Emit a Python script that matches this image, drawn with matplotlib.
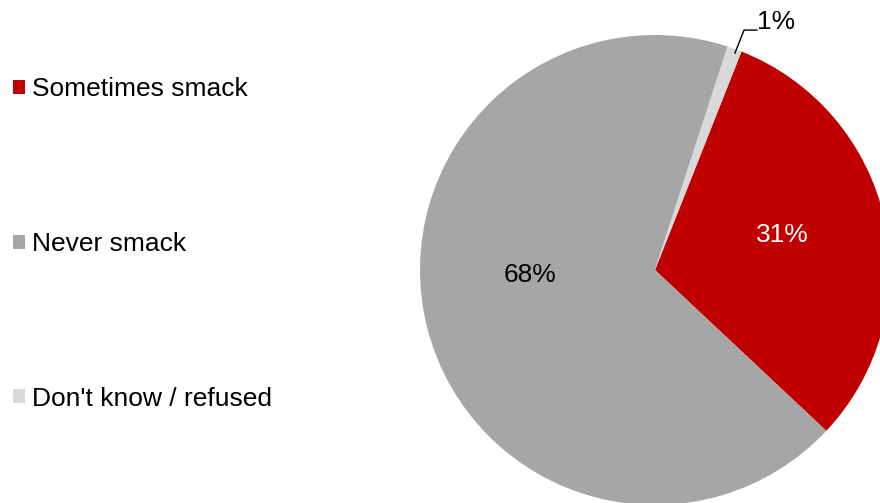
import matplotlib

matplotlib.use("Agg")
import matplotlib.pyplot as plt

plt.rcParams["font.family"] = ["Liberation Sans", "DejaVu Sans"]

CATEGORIES = ["Sometimes smack", "Never smack", "Don't know / refused"]
SHARES = [31, 68, 1]
COLORS = ["#C00000", "#A6A6A6", "#D9D9D9"]
LABEL_COLORS = ["white", "black", "black"]
# label anchor points in pie units (radius = 1)
LABEL_POS = [(0.54, 0.15), (-0.53, -0.02), (0.515, 1.055)]


def main() -> int:
    fig = plt.figure(figsize=(8.8, 5.03), dpi=100)
    ax = fig.add_axes([420 / 880, -2 / 503, 470 / 880, 470 / 503])

    wedges, _ = ax.pie(
        SHARES,
        colors=COLORS,
        startangle=68.4,
        counterclock=False,
        radius=1.0,
        wedgeprops={"linewidth": 0},
    )
    ax.set_xlim(-1, 1)
    ax.set_ylim(-1, 1)
    ax.set_aspect("equal")
    for w in wedges:
        w.set_clip_on(False)

    for share, (x, y), color in zip(SHARES, LABEL_POS, LABEL_COLORS):
        ax.text(x, y, f"{share}%", ha="center", va="center", fontsize=19,
                color=color, clip_on=False)

    # leader line for the small slice
    ax.plot([0.34, 0.379, 0.434], [0.923, 1.021, 1.021], color="black",
            linewidth=1.0, clip_on=False)

    fig.legend(
        wedges,
        CATEGORIES,
        loc="upper left",
        bbox_to_anchor=(-5 / 880, 1 - 59 / 503),
        frameon=False,
        fontsize=19,
        handlelength=0.45,
        handleheight=0.45,
        handletextpad=0.25,
        labelspacing=4.95,
        borderaxespad=0.3,
    )

    fig.savefig("out.png", dpi=100)
    plt.close(fig)
    return 0


if __name__ == "__main__":
    raise SystemExit(main())
